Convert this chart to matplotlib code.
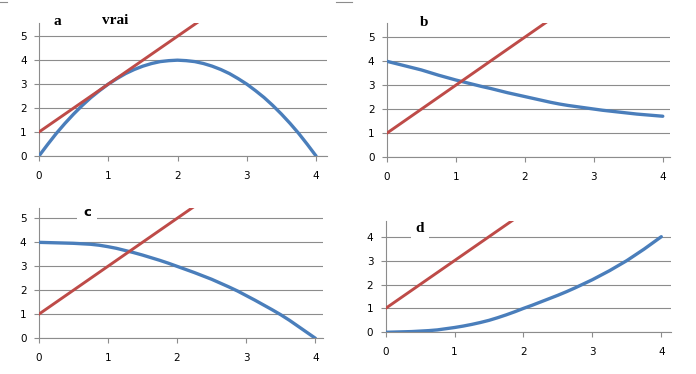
import numpy as np
import matplotlib.pyplot as plt

# sample points (x step 0.125)
x = [0, 0.125, 0.25, 0.375, 0.5, 0.625, 0.75, 0.875, 1, 1.125, 1.25, 1.375, 1.5, 1.625, 1.75, 1.875,
     2, 2.125, 2.25, 2.375, 2.5, 2.625, 2.75, 2.875, 3, 3.125, 3.25, 3.375, 3.5, 3.625, 3.75, 3.875, 4]
blue_a = [0, 0.48, 0.94, 1.36, 1.75, 2.11, 2.44, 2.73, 3.0, 3.23, 3.44, 3.61, 3.75, 3.86, 3.94, 3.98,
          4.0, 3.98, 3.94, 3.86, 3.75, 3.61, 3.44, 3.23, 3.0, 2.73, 2.44, 2.11, 1.75, 1.36, 0.94, 0.48, 0]
blue_b = [4.0, 3.91, 3.82, 3.73, 3.64, 3.53, 3.42, 3.32, 3.22, 3.13, 3.04, 2.95, 2.87, 2.78, 2.69, 2.61,
          2.53, 2.45, 2.37, 2.29, 2.22, 2.16, 2.11, 2.06, 2.01, 1.96, 1.92, 1.88, 1.84, 1.80, 1.77, 1.74, 1.71]
blue_c = [4.0, 3.99, 3.98, 3.97, 3.96, 3.94, 3.92, 3.88, 3.82, 3.75, 3.66, 3.57, 3.47, 3.36, 3.25, 3.13,
          3.0, 2.87, 2.74, 2.60, 2.46, 2.30, 2.14, 1.97, 1.78, 1.59, 1.39, 1.19, 0.98, 0.75, 0.5, 0.25, 0.0]
blue_d = [0, 0.01, 0.02, 0.03, 0.05, 0.07, 0.1, 0.15, 0.2, 0.26, 0.33, 0.41, 0.5, 0.61, 0.73, 0.86,
          1.0, 1.13, 1.27, 1.41, 1.55, 1.70, 1.86, 2.03, 2.2, 2.39, 2.58, 2.79, 3.0, 3.24, 3.48, 3.74, 4.0]

# red tangent line y = 2x + 1 (clipped by the axes)
red_x = [0, 4]
red_y = [1, 9]

x_ticks = [0, 1, 2, 3, 4]

BLUE = '#4a7ebb'
RED = '#be4b48'
GRID = '#8c8c8c'

fig = plt.figure(figsize=(6.96, 3.74), dpi=100)

# panel layout in figure fractions: rect, xmax, ymax, yticks, blue curve
panels = [
    ([0.056, 0.583, 0.414, 0.356], 4.16, 5.56, [0, 1, 2, 3, 4, 5], blue_a),
    ([0.5556, 0.5794, 0.4066, 0.3583], 4.10, 5.58, [0, 1, 2, 3, 4, 5], blue_b),
    ([0.0556, 0.0955, 0.4085, 0.3476], 4.11, 5.42, [0, 1, 2, 3, 4, 5], blue_c),
    ([0.554, 0.1115, 0.41, 0.2984], 4.14, 4.67, [0, 1, 2, 3, 4], blue_d),
]

for rect, xmax, ymax, yt, blue in panels:
    ax = fig.add_axes(rect)
    ax.plot(x, blue, color=BLUE, lw=2.4, solid_capstyle='round', zorder=3)
    ax.plot(red_x, red_y, color=RED, lw=2.1, zorder=4)
    ax.set_xlim(0, xmax)
    ax.set_ylim(0, ymax)
    ax.set_xticks(x_ticks)
    ax.set_yticks(yt)
    ax.yaxis.grid(True, color=GRID, lw=0.8)
    ax.set_axisbelow(True)
    for s in ['top', 'right']:
        ax.spines[s].set_visible(False)
    for s in ['left', 'bottom']:
        ax.spines[s].set_color(GRID)
        ax.spines[s].set_linewidth(0.8)
    ax.tick_params(axis='x', length=3.5, width=0.8, color=GRID, pad=7, labelsize=7.5)
    ax.tick_params(axis='y', length=3.8, width=0.8, color=GRID, pad=5, labelsize=7.5)

fig.text(57 / 696, 1 - 21.5 / 374, 'a', family='Liberation Serif', weight='bold',
         fontsize=11, ha='center', va='center')
fig.text(115.5 / 696, 1 - 21 / 374, 'vrai', family='Liberation Serif', weight='bold',
         fontsize=11, ha='center', va='center')
fig.text(424 / 696, 1 - 22 / 374, 'b', family='Liberation Serif', weight='bold',
         fontsize=11, ha='center', va='center')
fig.text(87 / 696, 1 - 212 / 374, 'c', weight='bold', fontsize=9.5,
         ha='center', va='center', zorder=10,
         bbox=dict(facecolor='white', edgecolor='none', boxstyle='square,pad=0.45'))
fig.text(420 / 696, 1 - 228 / 374, 'd', family='Liberation Serif', weight='bold',
         fontsize=11, ha='center', va='center', zorder=10,
         bbox=dict(facecolor='white', edgecolor='none', boxstyle='square,pad=0.3'))

# small stray marks at the top edge
fig.add_artist(plt.Line2D([0 / 696, 7 / 696], [1 - 1.5 / 374] * 2, color=GRID, lw=0.8))
fig.add_artist(plt.Line2D([336 / 696, 352 / 696], [1 - 1.5 / 374] * 2, color=GRID, lw=0.8))

fig.savefig('out.png', dpi=100)
